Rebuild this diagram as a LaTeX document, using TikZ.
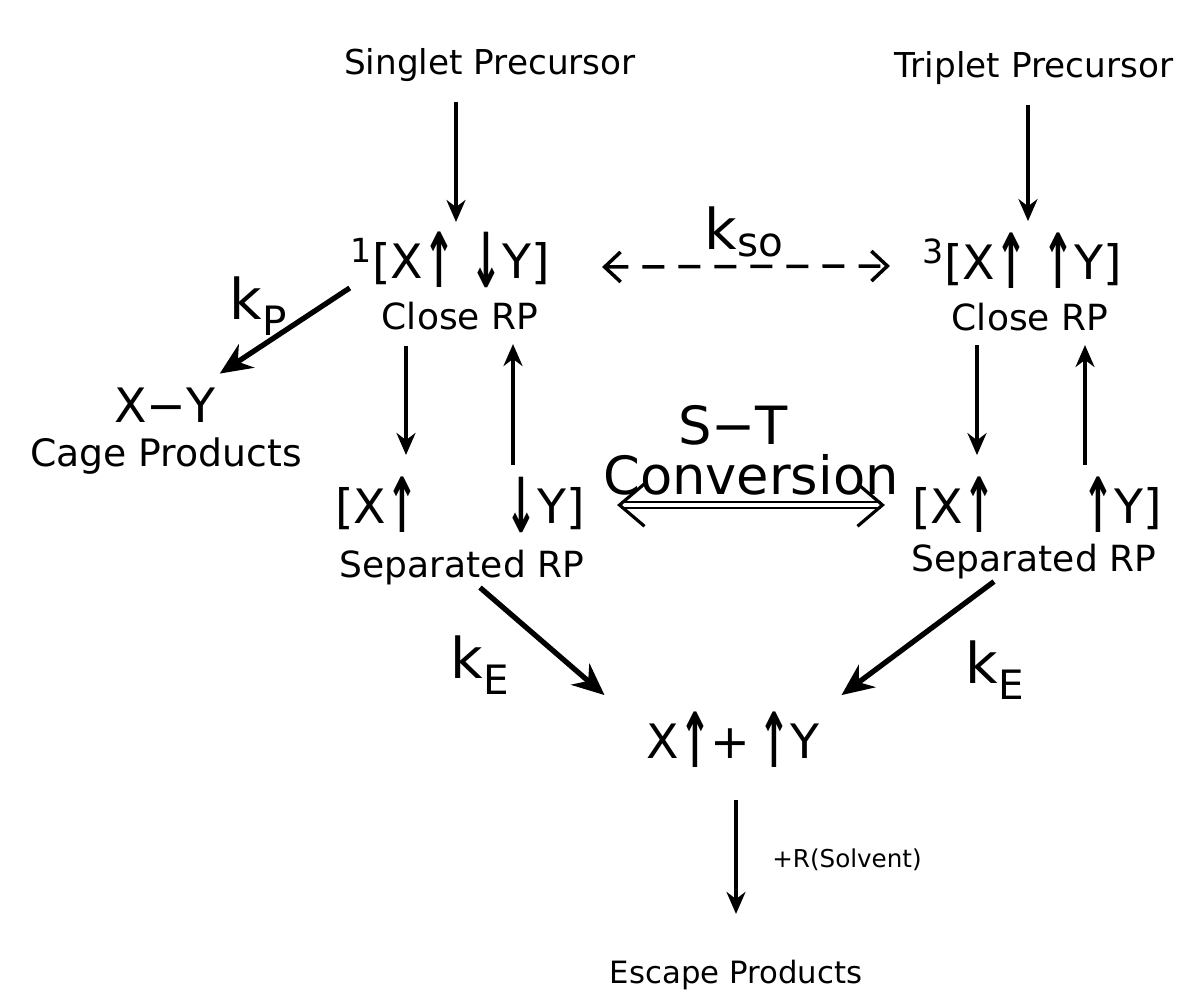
\documentclass[tikz,border=0pt]{standalone}
\usepackage{fontspec}
\setmainfont{DejaVu Sans}
\usetikzlibrary{arrows.meta, calc}
\newcommand{\upa}{\raisebox{-0.2em}{\scalebox{0.8}[1.6]{\bfseries ↑}}}
\newcommand{\dna}{\raisebox{-0.2em}{\scalebox{0.8}[1.6]{\bfseries ↓}}}
\newcommand{\kidx}[2][-0.28em]{\raisebox{#1}{\scalebox{0.72}{#2}}}
\tikzset{
  lbl/.style={font=\fontsize{19.5}{22}\selectfont, inner sep=1pt},
  rpname/.style={font=\fontsize{20.5}{24}\selectfont, inner sep=1pt},
  spin/.style={font=\fontsize{27}{32}\selectfont, inner sep=1pt},
  title/.style={font=\fontsize{30}{34}\selectfont, inner sep=0pt},
  rate/.style={font=\fontsize{32}{36}\selectfont, inner sep=1pt},
  flow/.style={-{Stealth[length=4.4mm,width=3.8mm]}, line width=2pt},
  strong/.style={-{Stealth[length=6.4mm,width=5.6mm]}, line width=3pt},
  swap/.style={{Straight Barb[length=3.2mm,width=6mm]}-{Straight Barb[length=3.2mm,width=6mm]},
    dash pattern=on 12.5pt off 8pt, line width=2pt},
  conv/.style={{Straight Barb[length=5mm,width=8.5mm,line width=1.8pt]}-{Straight Barb[length=5mm,width=8.5mm,line width=1.8pt]},
    double, double distance=2.4pt, line width=1pt}
}
\begin{document}
\begin{tikzpicture}[x=0.02cm, y=-0.02cm]
  \useasboundingbox (0,0) rectangle (1187,994);
  % precursors
  \node[lbl] (singlet) at (490,65) {Singlet Precursor};
  \node[lbl] (triplet) at (1034,68) {Triplet Precursor};
  % close radical pairs
  \node[spin] (closeS) at (450,260) {\textsuperscript{1}[X\upa\,\,\dna Y]};
  \node[rpname] (closeSrp) at (460,316) {Close RP};
  \node[spin] (closeT) at (1022,261) {\textsuperscript{3}[X\upa\,\,\upa Y]};
  \node[rpname] (closeTrp) at (1030,317) {Close RP};
  \node[rate] (kso) at (744,232) {k\kidx[-0.12em]{so}};
  % cage
  \node[rate] (kp) at (258,306) {k\kidx{P}};
  \node[spin] (cage) at (165,405) {X−Y};
  \node[rpname, font=\fontsize{21.5}{24}\selectfont] (cageLab) at (166,456) {Cage Products};
  % separated radical pairs
  \node[spin] (sepS) at (460,505) {[X\upa\hspace{50pt}\dna Y]};
  \node[rpname] (sepSrp) at (462,568) {Separated RP};
  \node[spin] (sepT) at (1037,505) {[X\upa\hspace{50pt}\upa Y]};
  \node[rpname] (sepTrp) at (1034,562) {Separated RP};
  \node[title, anchor=base] (st) at (733,444) {S−T};
  \node[title, anchor=base] (conv) at (751,494) {Conversion};
  % escape
  \node[rate] (kEl) at (480,665) {k\kidx{E}};
  \node[rate] (kEr) at (995,670) {k\kidx{E}};
  \node[spin] (free) at (733,740) {X\upa+\,\upa Y};
  \node[font=\fontsize{14}{16}\selectfont] (solv) at (847,860) {+R(Solvent)};
  \node[font=\fontsize{17.5}{20}\selectfont] (escape) at (736,975) {Escape Products};

  \draw[flow] ($(singlet.south)+(-34,18)$) -- ($(closeS.north)+(6,-8)$);
  \draw[flow] ($(triplet.south)+(-6,18)$) -- ($(closeT.north)+(6,-10)$);
  \draw[swap] ($(closeS.east)+(50,7)$) -- ($(closeT.west)+(-30,5)$);
  \draw[strong] ($(closeSrp.north west)+(-30,-12)$) -- ($(cage.north east)+(2,-12)$);
  \draw[flow] ($(closeSrp.south)+(-54,14)$) -- ($(sepS.north)+(-54,-20)$);
  \draw[flow] ($(sepS.north)+(53,-10)$) -- ($(closeSrp.south)+(53,12)$);
  \draw[flow] ($(closeTrp.south)+(-53,12)$) -- ($(sepT.north)+(-60,-20)$);
  \draw[flow] ($(sepT.north)+(48,-10)$) -- ($(closeTrp.south)+(55,12)$);
  \draw[conv] ($(sepS.east)+(30,0)$) -- ($(sepT.west)+(-25,0)$);
  \draw[strong] ($(sepSrp.south)+(18,0)$) -- ($(free.north west)+(-40,-15)$);
  \draw[strong] ($(sepTrp.south)+(-40,0)$) -- ($(free.north east)+(20,-15)$);
  \draw[flow] ($(free.south)+(3,30)$) -- ($(escape.north)+(0,-40)$);
\end{tikzpicture}
\end{document}
